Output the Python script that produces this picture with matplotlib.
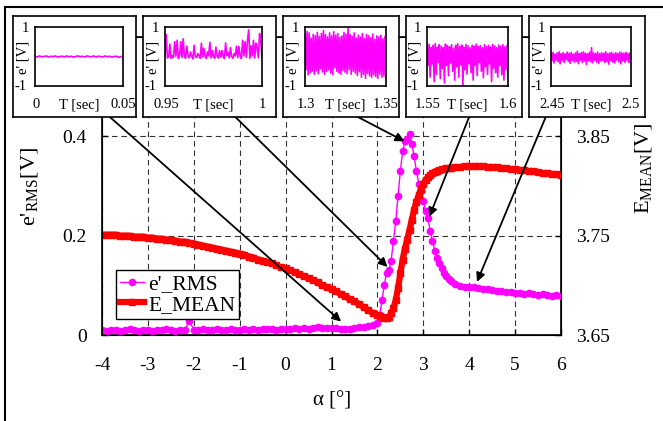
import numpy as np
import matplotlib
matplotlib.use("Agg")
import matplotlib.pyplot as plt
from matplotlib.lines import Line2D

plt.rcParams["font.family"] = ["Liberation Serif", "DejaVu Serif"]
plt.rcParams["mathtext.fontset"] = "custom"
plt.rcParams["mathtext.rm"] = "Liberation Serif"

W, H = 663, 421

# ----------------------------------------------------------------------------
# Main curves (angle sweep): coarse below 2 deg, fine through the peak, coarse after
# ----------------------------------------------------------------------------
alpha = np.concatenate([np.linspace(-4, 2, 61), np.linspace(2.05, 3.55, 31),
                        np.linspace(3.6, 6, 25)])

e_rms = [
    0.010, 0.009, 0.010, 0.011, 0.009, 0.010, 0.012, 0.010, 0.009, 0.011,
    0.010, 0.009, 0.011, 0.010, 0.012, 0.010, 0.009, 0.011, 0.010, 0.028,
    0.011, 0.010, 0.012, 0.010, 0.011, 0.013, 0.010, 0.011, 0.012, 0.010,
    0.011, 0.012, 0.011, 0.013, 0.011, 0.012, 0.012, 0.013, 0.011, 0.012,
    0.013, 0.012, 0.014, 0.013, 0.015, 0.013, 0.014, 0.016, 0.014, 0.015,
    0.014, 0.015, 0.013, 0.012, 0.013, 0.014, 0.016, 0.017, 0.019, 0.021,
    0.025,
    0.040, 0.070, 0.100, 0.125, 0.130, 0.150, 0.190, 0.230, 0.280, 0.330,
    0.370, 0.390, 0.395, 0.405, 0.385, 0.360, 0.330, 0.305, 0.290, 0.270,
    0.250, 0.235, 0.210, 0.190, 0.170, 0.155, 0.145, 0.135, 0.125, 0.118,
    0.112,
    0.108, 0.102, 0.098, 0.097, 0.096, 0.097, 0.095, 0.093, 0.092, 0.090,
    0.089, 0.088, 0.087, 0.086, 0.085, 0.084, 0.083, 0.084, 0.082, 0.081,
    0.082, 0.080, 0.079, 0.080, 0.078,
]

e_mean = [
    3.751, 3.751, 3.751, 3.751, 3.750, 3.750, 3.750, 3.749, 3.749, 3.749,
    3.748, 3.748, 3.747, 3.747, 3.746, 3.746, 3.745, 3.744, 3.744, 3.743,
    3.742, 3.741, 3.740, 3.739, 3.738, 3.737, 3.736, 3.735, 3.734, 3.733,
    3.732, 3.731, 3.729, 3.728, 3.726, 3.725, 3.723, 3.722, 3.720, 3.718,
    3.717, 3.715, 3.713, 3.711, 3.709, 3.707, 3.705, 3.703, 3.700, 3.698,
    3.696, 3.694, 3.691, 3.689, 3.686, 3.684, 3.681, 3.678, 3.675, 3.672,
    3.670,
    3.669, 3.668, 3.667, 3.667, 3.668, 3.672, 3.677, 3.685, 3.697, 3.712,
    3.726, 3.737, 3.746, 3.756, 3.766, 3.776, 3.784, 3.791, 3.797, 3.802,
    3.806, 3.809, 3.811, 3.813, 3.814, 3.815, 3.816, 3.817, 3.817, 3.818,
    3.818,
    3.818, 3.819, 3.819, 3.820, 3.820, 3.820, 3.820, 3.820, 3.819, 3.819,
    3.819, 3.818, 3.818, 3.817, 3.817, 3.816, 3.816, 3.815, 3.815, 3.814,
    3.813, 3.813, 3.812, 3.812, 3.811,
]

x_ticks = [-4, -3, -2, -1, 0, 1, 2, 3, 4, 5, 6]
y_ticks = [0, 0.2, 0.4]
y_tick_labels = ["0", "0.2", "0.4"]
y2_ticks = [3.65, 3.75, 3.85]
y2_tick_labels = ["3.65", "3.75", "3.85"]

# ----------------------------------------------------------------------------
# Inset time traces of e' [V]
# ----------------------------------------------------------------------------
inset_windows = [(0, 0.05), (0.95, 1), (1.3, 1.35), (1.55, 1.6), (2.45, 2.5)]
inset_labels = [("0", "0.05"), ("0.95", "1"), ("1.3", "1.35"), ("1.55", "1.6"),
                ("2.45", "2.5")]

sig1 = [0.01, -0.02, 0.02, -0.01, 0.0, 0.02, -0.02, 0.01, -0.01, 0.02,
        -0.02, 0.0, 0.01, -0.02, 0.02, -0.01, 0.01, -0.02, 0.0, 0.02,
        -0.01, 0.01, -0.02, 0.02, 0.0, -0.01, 0.02, -0.02, 0.01, 0.0,
        -0.02, 0.02, -0.01, 0.01, -0.02, 0.0, 0.01, -0.03, 0.0, -0.02]

sig2 = [0.02, 0.75, -0.05, 0.0, 0.42, -0.06, 0.03, -0.04, 0.5, 0.01,
        0.55, -0.07, 0.02, 0.5, -0.03, 0.6, 0.0, -0.06, 0.35, 0.02,
        -0.05, 0.15, 0.01, -0.08, 0.38, 0.0, -0.04, 0.1, 0.03, -0.06,
        0.45, -0.02, 0.28, 0.01, -0.07, 0.15, 0.02, 0.48, -0.05, 0.2,
        0.0, -0.06, 0.32, 0.02, -0.05, 0.2, -0.02, 0.2, 0.01, -0.07,
        0.46, 0.03, 0.15, -0.05, 0.3, 0.0, -0.06, 0.1, 0.02, 0.35,
        -0.04, 0.34, 0.01, -0.07, 0.55, 0.02, 0.5, -0.03, 0.54, 0.9,
        -0.06, 0.36, 0.02, 0.55, -0.05, 0.45, 0.3, -0.04, 0.78, 0.5, 0.02]

peaks3 = [0.72, 0.85, 0.8, 0.62, 0.75, 0.7, 0.82, 0.68, 0.78, 0.88,
          0.74, 0.66, 0.8, 0.7, 0.84, 0.72, 0.78, 0.65, 0.7, 0.82,
          0.76, 0.97, 0.74, 0.68, 0.8, 0.62, 0.72, 0.66, 0.78, 0.6,
          0.74, 0.7, 0.64, 0.76, 0.58, 0.7, 0.66, 0.72, 0.6, 0.68]
troughs3 = [-0.45, -0.62, -0.55, -0.5, -0.6, -0.48, -0.58, -0.42, -0.52, -0.6,
            -0.5, -0.45, -0.56, -0.62, -0.38, -0.5, -0.55, -0.6, -0.47, -0.53,
            -0.58, -0.44, -0.6, -0.5, -0.56, -0.64, -0.52, -0.7, -0.6, -0.74,
            -0.58, -0.66, -0.7, -0.62, -0.68, -0.74, -0.6, -0.7, -0.66, -0.72]

peaks4 = [0.36, 0.42, 0.3, 0.38, 0.44, 0.32, 0.4, 0.35, 0.3, 0.42,
          0.37, 0.33, 0.4, 0.28, 0.38, 0.43, 0.34, 0.39, 0.31, 0.41,
          0.36, 0.3, 0.38, 0.35, 0.42, 0.33, 0.37, 0.29, 0.4, 0.34,
          0.38, 0.32, 0.41, 0.36, 0.3, 0.39, 0.35, 0.4, 0.33, 0.37]
troughs4 = [-0.3, -0.7, -0.25, -0.85, -0.6, -0.2, -0.75, -0.4, -0.9, -0.3,
            -0.65, -0.22, -0.5, -0.8, -0.35, -0.7, -0.28, -1.0, -0.45, -0.6,
            -0.25, -0.55, -0.8, -0.3, -0.65, -0.2, -0.5, -0.72, -0.35, -0.6,
            -0.25, -0.85, -0.4, -0.55, -0.7, -0.3, -0.62, -0.8, -0.45, -0.5]

peaks5 = [0.1, 0.14, 0.08, 0.12, 0.16, 0.1, 0.13, 0.09, 0.15, 0.11,
          0.14, 0.08, 0.12, 0.18, 0.1, 0.13, 0.16, 0.11, 0.09, 0.14,
          0.3, 0.12, 0.1, 0.15, 0.09, 0.13, 0.11, 0.16, 0.1, 0.12,
          0.14, 0.09, 0.13, 0.1, 0.15, 0.12, 0.11, 0.14, 0.1, 0.12]
troughs5 = [-0.15, -0.22, -0.12, -0.18, -0.25, -0.14, -0.2, -0.1, -0.17, -0.23,
            -0.13, -0.19, -0.16, -0.24, -0.12, -0.2, -0.15, -0.27, -0.14, -0.18,
            -0.21, -0.12, -0.19, -0.24, -0.15, -0.13, -0.2, -0.17, -0.26, -0.14,
            -0.19, -0.22, -0.12, -0.18, -0.25, -0.15, -0.2, -0.13, -0.21, -0.17]


def zigzag(hi, lo):
    # alternate peak / trough samples so the trace fills like a noisy signal
    return np.column_stack([hi, lo]).ravel()


signals = [np.array(sig1), np.array(sig2), zigzag(peaks3, troughs3),
           zigzag(peaks4, troughs4), zigzag(peaks5, troughs5)]

# arrows: tail under each inset -> point on the e'_RMS curve (main data coords)
arrow_tails = [(-3.89, 0.444), (-1.15, 0.444), (1.47, 0.444), (4.02, 0.444), (5.69, 0.444)]
arrow_heads = [(1.21, 0.027), (2.22, 0.137), (2.59, 0.39), (3.13, 0.238), (4.17, 0.107)]

# inset box geometry in pixels: outer left/right, inner left/right
inset_outer = [(13, 136), (143, 276), (283, 399), (406, 522), (529, 645)]
inset_inner = [(35, 123), (165, 262), (305, 386), (427, 508), (551, 631)]


def fx(px):
    return px / W


def fy(py):
    return 1 - py / H


MAGENTA = "#FF00FF"
RED = "#FF0000"

fig = plt.figure(figsize=(W / 100, H / 100), dpi=100)

ax = fig.add_axes([fx(102), fy(335), fx(561) - fx(102), fy(37) - fy(335)])
ax.set_xlim(-4, 6)
ax.set_ylim(0, 0.6)
ax.set_xticks(x_ticks)
ax.set_xticklabels([str(t) for t in x_ticks])
ax.set_yticks(y_ticks)
ax.set_yticklabels(y_tick_labels)
ax.set_axisbelow(True)
ax.grid(True, ls=(0, (5, 3.5)), color="#333333", lw=0.8)
ax.tick_params(axis="x", direction="in", length=4, width=1, labelsize=14, pad=16)
ax.tick_params(axis="y", direction="in", length=4, width=1, labelsize=14, pad=11)
for s in ax.spines.values():
    s.set_linewidth(1.2)

l1, = ax.plot(alpha, e_rms, color=MAGENTA, marker="o", ms=4.5, lw=1,
              label="e'_RMS", zorder=3)

ax2 = ax.twinx()
ax2.set_ylim(3.65, 3.95)
ax2.set_yticks(y2_ticks)
ax2.set_yticklabels(y2_tick_labels)
ax2.tick_params(axis="y", direction="in", length=4, width=1, labelsize=14, pad=11)
l2, = ax2.plot(alpha, e_mean, color=RED, marker="s", ms=5, lw=4.5,
               label="E_MEAN", zorder=2)

leg = ax2.legend(handles=[l1, l2], loc="lower left", bbox_to_anchor=(0.03, 0.054),
                 borderaxespad=0, fontsize=15.5, frameon=True, fancybox=False,
                 framealpha=1, edgecolor="black", handlelength=1.1,
                 handletextpad=0.2, borderpad=0.2, labelspacing=0.0)
leg.get_frame().set_linewidth(1.0)

for tail, head in zip(arrow_tails, arrow_heads):
    ax2.annotate("", xy=head, xycoords=ax.transData, xytext=tail,
                 textcoords=ax.transData, zorder=6,
                 arrowprops=dict(arrowstyle="-|>", color="black", lw=1.3,
                                 mutation_scale=13, shrinkA=0, shrinkB=0))

fig.text(fx(30), fy(187), r"e'$_{\mathrm{RMS}}$[V]", rotation=90,
         ha="center", va="center", fontsize=16)
fig.text(fx(644), fy(168), r"E$_{\mathrm{MEAN}}$[V]", rotation=90,
         ha="center", va="center", fontsize=16)
fig.text(fx(332), fy(401), "α [°]", ha="center", va="center", fontsize=15)

# outer frame (only top and left edges fall inside the image)
fig.add_artist(Line2D([fx(5), fx(5)], [fy(7), -0.05], transform=fig.transFigure,
                      color="black", lw=1.5))
fig.add_artist(Line2D([fx(5), 1.05], [fy(7), fy(7)], transform=fig.transFigure,
                      color="black", lw=1.5))

# insets
for (o0, o1), (i0, i1), (t0, t1), (lab0, lab1), sig in zip(
        inset_outer, inset_inner, inset_windows, inset_labels, signals):
    box = fig.add_axes([fx(o0), fy(117), fx(o1) - fx(o0), fy(16) - fy(117)], zorder=5)
    box.set_xticks([])
    box.set_yticks([])
    for s in box.spines.values():
        s.set_linewidth(1.2)
    kw = dict(transform=fig.transFigure, fontsize=10.5, va="center")
    box.text(fx(i0 - 10), fy(28), "1", ha="center", **kw)
    box.text(fx(i0 - 14), fy(87), "-1", ha="center", **kw)
    box.text(fx(i0 - 12), fy(57), "e' [V]", ha="center", rotation=90, **kw)
    box.text(fx(i0 + 1), fy(105), lab0, ha="center", **kw)
    box.text(fx((i0 + i1) / 2), fy(105), "T [sec]", ha="center", **kw)
    box.text(fx(i1), fy(105), lab1, ha="center", **kw)

    ins = fig.add_axes([fx(i0), fy(86), fx(i1) - fx(i0), fy(27) - fy(86)], zorder=6)
    t = np.linspace(t0, t1, len(sig))
    ins.plot(t, sig, color=MAGENTA, lw=1.2)
    ins.set_xlim(t0, t1)
    ins.set_ylim(-1, 1)
    ins.set_xticks([])
    ins.set_yticks([])
    for s in ins.spines.values():
        s.set_linewidth(1.2)

fig.savefig("out.png", dpi=100)
